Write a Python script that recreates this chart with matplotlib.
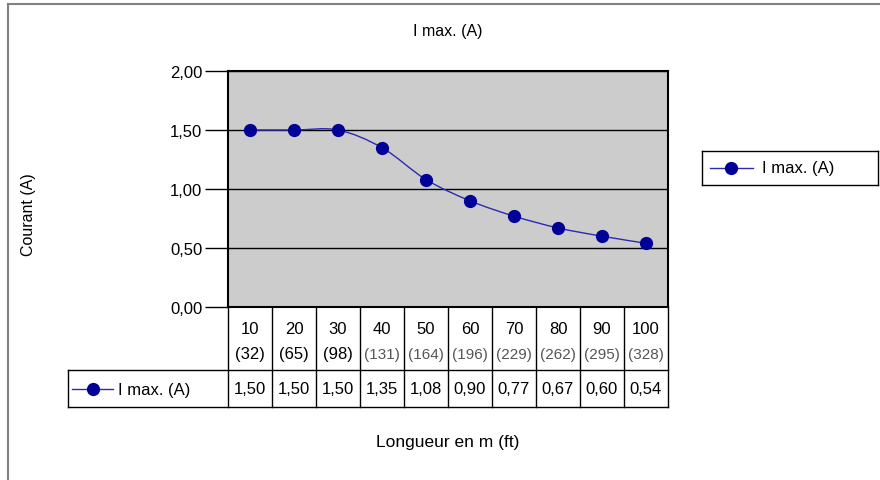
import numpy as np
import matplotlib.pyplot as plt
from matplotlib.path import Path
from matplotlib.patches import PathPatch
from matplotlib.lines import Line2D
import matplotlib.transforms as mtransforms

plt.rcParams['font.family'] = ['Liberation Sans', 'DejaVu Sans']

lengths_m = [10, 20, 30, 40, 50, 60, 70, 80, 90, 100]
lengths_ft = [32, 65, 98, 131, 164, 196, 229, 262, 295, 328]
i_max = [1.50, 1.50, 1.50, 1.35, 1.08, 0.90, 0.77, 0.67, 0.60, 0.54]
y_ticks = [0.0, 0.5, 1.0, 1.5, 2.0]
series_name = 'I max. (A)'

line_col = '#2a2ab4'
mark_col = '#000099'
fs = 12


def fr(v):
    return f'{v:.2f}'.replace('.', ',')


def smooth_path(xs, ys):
    # cubic bezier through the points, like the excel smoothed line
    pts = np.column_stack([xs, ys]).astype(float)
    n = len(pts)
    verts = [pts[0]]
    codes = [Path.MOVETO]
    for i in range(n - 1):
        p0 = pts[max(i - 1, 0)]
        p1 = pts[i]
        p2 = pts[i + 1]
        p3 = pts[min(i + 2, n - 1)]
        verts += [p1 + (p2 - p0) / 6, p2 - (p3 - p1) / 6, p2]
        codes += [Path.CURVE4] * 3
    return Path(verts, codes)


fig = plt.figure(figsize=(8.8, 4.81), dpi=100)
ax = fig.add_axes([228 / 880, 1 - 308 / 481, 440 / 880, 236 / 481])
ax.set_facecolor('#cccccc')

x = np.arange(len(lengths_m))
ax.add_patch(PathPatch(smooth_path(x, i_max), fill=False, edgecolor=line_col, lw=1))
ax.plot(x, i_max, 'o', color=mark_col, ms=8.5)

ax.set_xlim(-0.5, len(x) - 0.5)
ax.set_ylim(0, 2)
ax.set_yticks(y_ticks)
ax.set_yticklabels([fr(v) for v in y_ticks], fontsize=fs)
ax.set_xticks([])
ax.yaxis.grid(True, color='black', lw=1)
ax.set_axisbelow(True)
ax.tick_params(axis='y', length=16.5, width=1, pad=2)
for s in ax.spines.values():
    s.set_linewidth(1.5)

# data table below the plot
tr = mtransforms.blended_transform_factory(ax.transData, ax.transAxes)
h1 = -63 / 236
h2 = -100 / 236
key_left = -0.5 - 160 / 44
lkw = dict(color='black', lw=1, transform=tr, clip_on=False)
for i in range(len(x) + 1):
    ax.add_line(Line2D([i - 0.5, i - 0.5], [0, h2], **lkw))
ax.add_line(Line2D([key_left, len(x) - 0.5], [h1, h1], **lkw))
ax.add_line(Line2D([key_left, len(x) - 0.5], [h2, h2], **lkw))
ax.add_line(Line2D([key_left, key_left], [h1, h2], **lkw))

for i in x:
    ax.text(i, -22 / 236, str(lengths_m[i]), ha='center', va='center',
            fontsize=fs, transform=tr)
    if i < 3:
        ax.text(i, -47 / 236, f'({lengths_ft[i]})', ha='center', va='center',
                fontsize=fs, transform=tr)
    else:
        ax.text(i, -47 / 236, f'({lengths_ft[i]})', ha='center', va='center',
                fontsize=11, color='#555555', transform=tr)
    ax.text(i, -82 / 236, fr(i_max[i]), ha='center', va='center',
            fontsize=fs, transform=tr)

# legend key inside the table
kx = [key_left + 4 / 44, key_left + 45 / 44]
ax.add_line(Line2D(kx, [-82 / 236] * 2, color=line_col, lw=1,
                   transform=tr, clip_on=False))
ax.add_line(Line2D([np.mean(kx)], [-82 / 236], marker='o', color=mark_col,
                   ms=8.5, transform=tr, clip_on=False))
ax.text(key_left + 50 / 44, -82 / 236, series_name, ha='left', va='center',
        fontsize=fs, transform=tr)

ax.set_title(series_name, fontsize=11.5, pad=26)
fig.text(28 / 880, 1 - 215 / 481, 'Courant (A)', rotation=90, ha='center',
         va='center', fontsize=11.5)
fig.text(448 / 880, 1 - 442 / 481, 'Longueur en m (ft)', ha='center',
         va='center', fontsize=12.5)

# legend on the right
leg_ax = fig.add_axes([702 / 880, 1 - 186 / 481, 176 / 880, 34 / 481])
leg_ax.set_xlim(0, 176)
leg_ax.set_ylim(0, 34)
leg_ax.set_xticks([])
leg_ax.set_yticks([])
leg_ax.plot([8, 51], [17, 17], color=line_col, lw=1)
leg_ax.plot([29], [17], 'o', color=mark_col, ms=8.5)
leg_ax.text(60, 17, series_name, ha='left', va='center', fontsize=fs)
for s in leg_ax.spines.values():
    s.set_linewidth(1)

# chart frame
fig.add_artist(Line2D([8 / 880, 8 / 880], [0, 1 - 5 / 481], color='#808080',
                      lw=1.5, transform=fig.transFigure))
fig.add_artist(Line2D([8 / 880, 1], [1 - 5 / 481, 1 - 5 / 481], color='#808080',
                      lw=1.5, transform=fig.transFigure))

fig.savefig('out.png', dpi=100)
